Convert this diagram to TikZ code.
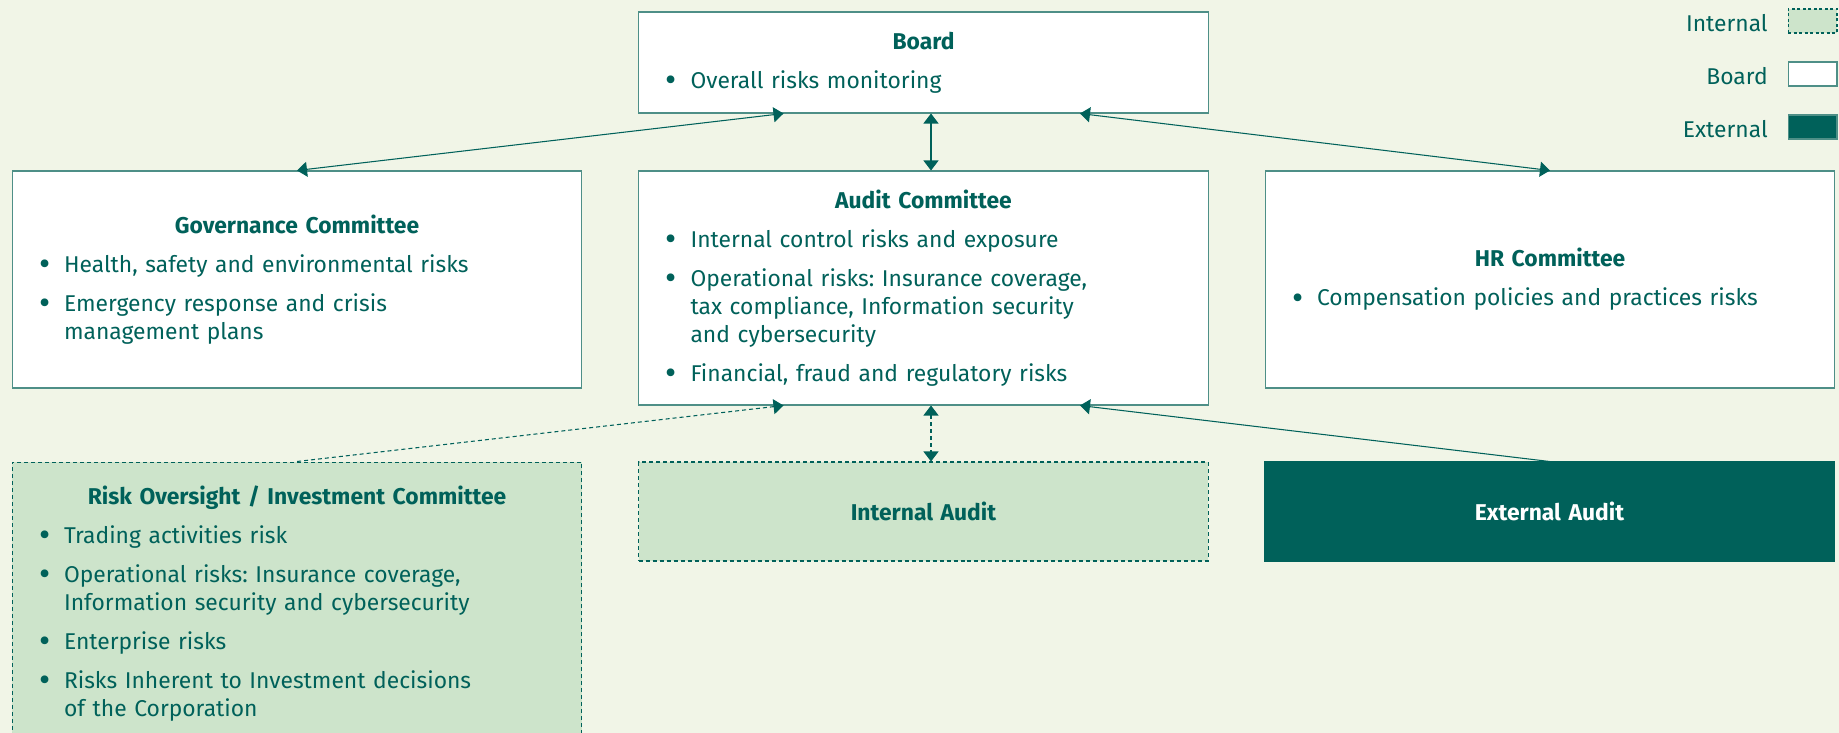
\documentclass[tikz,border=0pt]{standalone}
\usepackage{fontspec}
\setmainfont{Fira Sans}
\usepackage{xcolor}
\usepackage{graphicx}
\usetikzlibrary{arrows.meta}

\definecolor{bgcream}{HTML}{F1F5E7}
\definecolor{riskteal}{HTML}{00615A}
\definecolor{riskgreen}{HTML}{CDE4CB}
\definecolor{riskline}{HTML}{4E8F87}

\newcommand{\btitle}[1]{{\centering\bfseries #1\par}}
\newcommand{\bitem}[1]{\hangindent=0.5cm\hangafter=1\noindent\hbox to 0.5cm{\raisebox{-0.14em}{\scalebox{1.5}{\textbullet}}\hfil}#1\par}

\begin{document}
\begin{tikzpicture}[x=0.02cm, y=-0.02cm,
    box/.style={rectangle, draw=riskline, line width=0.6pt, fill=white, text=riskteal,
        text width=10.32cm, inner xsep=0.54cm, align=left,
        font=\fontsize{13}{16}\selectfont\frenchspacing\setlength{\parskip}{0.22cm}},
    internal/.style={box, fill=riskgreen, draw=riskteal, dash pattern=on 0.08cm off 0.06cm},
    external/.style={box, fill=riskteal, draw=riskteal, text=white},
    key/.style={rectangle, minimum width=0.98cm, minimum height=0.48cm, line width=0.6pt},
    keytext/.style={anchor=east, inner sep=0pt, text=riskteal, font=\fontsize{13}{16}\selectfont},
    arrow/.style={{Triangle[length=0.2cm, width=0.3cm]}-{Triangle[length=0.2cm, width=0.3cm]}, draw=riskteal, line width=0.6pt},
    dashedarrow/.style={arrow, dash pattern=on 0.08cm off 0.06cm}
]
    \fill[bgcream] (0,0) rectangle (1839,733);
    \clip (0,0) rectangle (1839,733);

    % top level
    \node[box, minimum height=2.02cm] (board) at (923.5,62.5) {\btitle{Board}\bitem{Overall risks monitoring}};

    % committees
    \node[box, minimum height=4.34cm] (governance) at (297,279.5) {\btitle{Governance Committee}
        \bitem{Health, safety and environmental risks}
        \bitem{Emergency response and crisis\newline management plans}};
    \node[box, minimum height=4.68cm] (audit) at (923.5,288) {\btitle{Audit Committee}
        \bitem{Internal control risks and exposure}
        \bitem{Operational risks: Insurance coverage,\newline tax compliance, Information security\newline and cybersecurity}
        \bitem{Financial, fraud and regulatory risks}};
    \node[box, minimum height=4.34cm] (hr) at (1550,279.5) {\btitle{HR Committee}
        \bitem{Compensation policies and practices risks}};

    % audit level
    \node[internal, minimum height=5.66cm] (riskoversight) at (297,603.5) {\btitle{Risk Oversight / Investment Committee}
        \bitem{Trading activities risk}
        \bitem{Operational risks: Insurance coverage,\newline Information security and cybersecurity}
        \bitem{Enterprise risks}
        \bitem{Risks Inherent to Investment decisions\newline of the Corporation}};
    \node[internal, minimum height=1.98cm] (internalaudit) at (923.5,511.5) {\btitle{Internal Audit}};
    \node[external, minimum height=1.98cm] (externalaudit) at (1549.5,511.5) {\btitle{External Audit}};

    % legend
    \node[key, fill=riskgreen, draw=riskteal, dash pattern=on 0.06cm off 0.05cm] (keyinternal) at (1812.5,21) {};
    \node[key, fill=white, draw=riskline] (keyboard) at (1812.5,74) {};
    \node[key, fill=riskteal, draw=riskline] (keyexternal) at (1812.5,127) {};
    \node[keytext] (labelinternal) at (1768,23) {Internal};
    \node[keytext] (labelboard) at (1768,76) {Board};
    \node[keytext] (labelexternal) at (1768,129) {External};

    \draw[arrow] ([xshift=-2.8cm]board.south) -- (governance.north);
    \draw[arrow] ([xshift=0.15cm]board.south) -- ([xshift=0.15cm]audit.north);
    \draw[arrow] ([xshift=3.13cm]board.south) -- (hr.north);
    \draw[draw=riskteal, line width=0.6pt, dash pattern=on 0.08cm off 0.06cm, {Triangle[length=0.2cm, width=0.3cm]}-] ([xshift=-2.8cm]audit.south) -- (riskoversight.north);
    \draw[dashedarrow] ([xshift=0.15cm]audit.south) -- ([xshift=0.15cm]internalaudit.north);
    \draw[draw=riskteal, line width=0.6pt, {Triangle[length=0.2cm, width=0.3cm]}-] ([xshift=3.13cm]audit.south) -- (externalaudit.north);
\end{tikzpicture}
\end{document}
